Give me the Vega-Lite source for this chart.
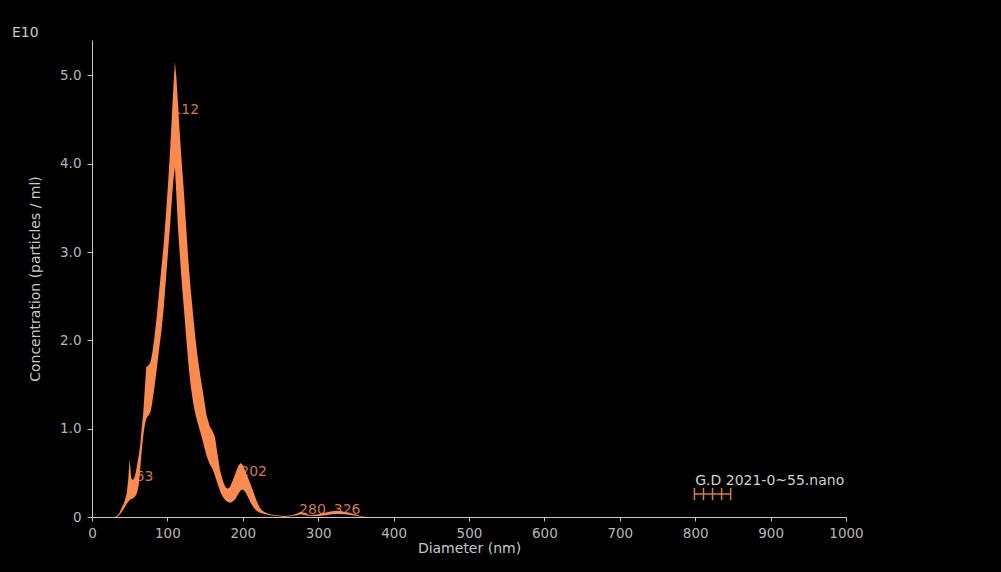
{
  "$schema": "https://vega.github.io/schema/vega-lite/v6.json",
  "width": 754,
  "height": 477,
  "autosize": {"type": "none"},
  "padding": {"left": 92, "top": 40, "right": 155, "bottom": 55},
  "background": "#000000",
  "config": {"view": {"stroke": null}, "font": "DejaVu Sans"},
  "title": {"text": "E10", "anchor": "start", "frame": "group", "dx": -80, "offset": 0, "color": "#c8c8c8", "fontSize": 14, "fontWeight": "normal"},
  "datasets": {
    "band": [
      {"diameter": 25, "lower": 0, "upper": 0},
      {"diameter": 30, "lower": 0, "upper": 0},
      {"diameter": 33, "lower": 0, "upper": 0.01},
      {"diameter": 36, "lower": 0.02, "upper": 0.04},
      {"diameter": 39, "lower": 0.05, "upper": 0.10},
      {"diameter": 42, "lower": 0.09, "upper": 0.15},
      {"diameter": 44, "lower": 0.12, "upper": 0.20},
      {"diameter": 46, "lower": 0.15, "upper": 0.27},
      {"diameter": 48, "lower": 0.17, "upper": 0.42},
      {"diameter": 49, "lower": 0.18, "upper": 0.55},
      {"diameter": 50, "lower": 0.19, "upper": 0.65},
      {"diameter": 51, "lower": 0.20, "upper": 0.55},
      {"diameter": 52, "lower": 0.20, "upper": 0.44},
      {"diameter": 54, "lower": 0.21, "upper": 0.42},
      {"diameter": 56, "lower": 0.22, "upper": 0.44},
      {"diameter": 58, "lower": 0.24, "upper": 0.50},
      {"diameter": 60, "lower": 0.28, "upper": 0.60},
      {"diameter": 62, "lower": 0.36, "upper": 0.70},
      {"diameter": 64, "lower": 0.55, "upper": 0.82},
      {"diameter": 66, "lower": 0.75, "upper": 1.02},
      {"diameter": 68, "lower": 0.92, "upper": 1.18},
      {"diameter": 70, "lower": 1.04, "upper": 1.45},
      {"diameter": 72, "lower": 1.11, "upper": 1.70},
      {"diameter": 74, "lower": 1.14, "upper": 1.71},
      {"diameter": 76, "lower": 1.16, "upper": 1.73},
      {"diameter": 78, "lower": 1.20, "upper": 1.77},
      {"diameter": 80, "lower": 1.30, "upper": 1.86},
      {"diameter": 83, "lower": 1.48, "upper": 2.05},
      {"diameter": 86, "lower": 1.68, "upper": 2.28},
      {"diameter": 89, "lower": 1.90, "upper": 2.55},
      {"diameter": 92, "lower": 2.10, "upper": 2.82},
      {"diameter": 95, "lower": 2.35, "upper": 3.08},
      {"diameter": 98, "lower": 2.68, "upper": 3.42},
      {"diameter": 101, "lower": 3.02, "upper": 3.79},
      {"diameter": 104, "lower": 3.35, "upper": 4.22},
      {"diameter": 106, "lower": 3.60, "upper": 4.55},
      {"diameter": 108, "lower": 3.82, "upper": 4.88},
      {"diameter": 110, "lower": 3.96, "upper": 5.15},
      {"diameter": 112, "lower": 3.62, "upper": 4.97},
      {"diameter": 114, "lower": 3.28, "upper": 4.68},
      {"diameter": 116, "lower": 3.02, "upper": 4.40},
      {"diameter": 118, "lower": 2.78, "upper": 4.14},
      {"diameter": 120, "lower": 2.55, "upper": 3.90},
      {"diameter": 122, "lower": 2.35, "upper": 3.67},
      {"diameter": 125, "lower": 2.02, "upper": 3.27},
      {"diameter": 128, "lower": 1.72, "upper": 2.88},
      {"diameter": 131, "lower": 1.48, "upper": 2.57},
      {"diameter": 134, "lower": 1.30, "upper": 2.30},
      {"diameter": 137, "lower": 1.17, "upper": 2.04},
      {"diameter": 140, "lower": 1.07, "upper": 1.82},
      {"diameter": 144, "lower": 0.95, "upper": 1.58},
      {"diameter": 148, "lower": 0.82, "upper": 1.37},
      {"diameter": 152, "lower": 0.69, "upper": 1.15},
      {"diameter": 156, "lower": 0.60, "upper": 1.03},
      {"diameter": 160, "lower": 0.54, "upper": 0.97},
      {"diameter": 163, "lower": 0.47, "upper": 0.91},
      {"diameter": 166, "lower": 0.39, "upper": 0.74},
      {"diameter": 170, "lower": 0.29, "upper": 0.52},
      {"diameter": 174, "lower": 0.22, "upper": 0.40},
      {"diameter": 177, "lower": 0.19, "upper": 0.34},
      {"diameter": 180, "lower": 0.17, "upper": 0.32},
      {"diameter": 183, "lower": 0.16, "upper": 0.34},
      {"diameter": 186, "lower": 0.17, "upper": 0.40},
      {"diameter": 190, "lower": 0.20, "upper": 0.49},
      {"diameter": 194, "lower": 0.26, "upper": 0.58},
      {"diameter": 197, "lower": 0.30, "upper": 0.61},
      {"diameter": 200, "lower": 0.31, "upper": 0.59},
      {"diameter": 203, "lower": 0.29, "upper": 0.53},
      {"diameter": 206, "lower": 0.24, "upper": 0.46},
      {"diameter": 210, "lower": 0.17, "upper": 0.38},
      {"diameter": 214, "lower": 0.11, "upper": 0.29},
      {"diameter": 218, "lower": 0.07, "upper": 0.19},
      {"diameter": 222, "lower": 0.05, "upper": 0.11},
      {"diameter": 226, "lower": 0.04, "upper": 0.07},
      {"diameter": 230, "lower": 0.03, "upper": 0.05},
      {"diameter": 236, "lower": 0.02, "upper": 0.03},
      {"diameter": 245, "lower": 0.01, "upper": 0.02},
      {"diameter": 255, "lower": 0, "upper": 0.01},
      {"diameter": 265, "lower": 0.01, "upper": 0.02},
      {"diameter": 272, "lower": 0.02, "upper": 0.04},
      {"diameter": 277, "lower": 0.03, "upper": 0.06},
      {"diameter": 283, "lower": 0.02, "upper": 0.04},
      {"diameter": 290, "lower": 0.01, "upper": 0.02},
      {"diameter": 300, "lower": 0.01, "upper": 0.03},
      {"diameter": 310, "lower": 0.02, "upper": 0.05},
      {"diameter": 318, "lower": 0.03, "upper": 0.065},
      {"diameter": 326, "lower": 0.035, "upper": 0.07},
      {"diameter": 335, "lower": 0.03, "upper": 0.06},
      {"diameter": 345, "lower": 0.02, "upper": 0.04},
      {"diameter": 355, "lower": 0.005, "upper": 0.015},
      {"diameter": 365, "lower": 0, "upper": 0}
    ],
    "peaks": [
      {"diameter": 112, "conc": 4.61, "label": "112"},
      {"diameter": 63, "conc": 0.45, "label": "63"},
      {"diameter": 202, "conc": 0.51, "label": "202"},
      {"diameter": 280, "conc": 0.08, "label": "280"},
      {"diameter": 326, "conc": 0.08, "label": "326"}
    ],
    "legendText": [
      {"diameter": 800, "conc": 0.41, "label": "G.D 2021-0~55.nano"}
    ],
    "legendLine": [
      {"diameter": 799, "diameter2": 847}
    ],
    "legendTicks": [
      {"diameter": 799}, {"diameter": 811}, {"diameter": 823}, {"diameter": 835}, {"diameter": 847}
    ]
  },
  "encoding": {
    "x": {
      "field": "diameter",
      "type": "quantitative",
      "scale": {"domain": [0, 1000], "nice": false},
      "axis": {
        "title": "Diameter (nm)",
        "values": [0, 100, 200, 300, 400, 500, 600, 700, 800, 900, 1000],
        "format": "d",
        "grid": false,
        "domainColor": "#c8c8c8",
        "tickColor": "#c8c8c8",
        "tickSize": 4,
        "labelColor": "#b8b8b8",
        "labelFontSize": 13.5,
        "labelPadding": 5,
        "labelFlush": false,
        "titleColor": "#c8c8c8",
        "titleFontSize": 14,
        "titleFontWeight": "normal",
        "titlePadding": 2
      }
    }
  },
  "layer": [
    {
      "data": {"name": "peaks"},
      "mark": {"type": "text", "align": "left", "baseline": "middle", "dx": -4, "fontSize": 14, "color": "#cf7a4e"},
      "encoding": {
        "y": {
          "field": "conc",
          "type": "quantitative",
          "scale": {"domain": [0, 5.4], "nice": false},
          "axis": {
            "title": "Concentration (particles / ml)",
            "values": [0, 1, 2, 3, 4, 5],
            "labelExpr": "datum.value == 0 ? '0' : format(datum.value, '.1f')",
            "grid": false,
            "domainColor": "#c8c8c8",
            "tickColor": "#c8c8c8",
            "tickSize": 5,
            "labelColor": "#b8b8b8",
            "labelFontSize": 13.5,
            "labelPadding": 6,
            "titleColor": "#c8c8c8",
            "titleFontSize": 14,
            "titleFontWeight": "normal",
            "titlePadding": 17
          }
        },
        "text": {"field": "label"}
      }
    },
    {
      "data": {"name": "band"},
      "mark": {"type": "area", "color": "#fa8a4e", "opacity": 1, "interpolate": "linear"},
      "encoding": {
        "y": {"field": "lower", "type": "quantitative"},
        "y2": {"field": "upper"}
      }
    },
    {
      "data": {"name": "legendText"},
      "mark": {"type": "text", "align": "left", "baseline": "middle", "fontSize": 14, "color": "#d0d0d0"},
      "encoding": {
        "y": {"field": "conc", "type": "quantitative"},
        "text": {"field": "label"}
      }
    },
    {
      "data": {"name": "legendLine"},
      "mark": {"type": "rule", "color": "#e07a45", "strokeWidth": 1.5},
      "encoding": {
        "x2": {"field": "diameter2"},
        "y": {"datum": 0.26}
      }
    },
    {
      "data": {"name": "legendTicks"},
      "mark": {"type": "rule", "color": "#e07a45", "strokeWidth": 1.5},
      "encoding": {
        "y": {"datum": 0.19},
        "y2": {"datum": 0.33}
      }
    }
  ]
}
